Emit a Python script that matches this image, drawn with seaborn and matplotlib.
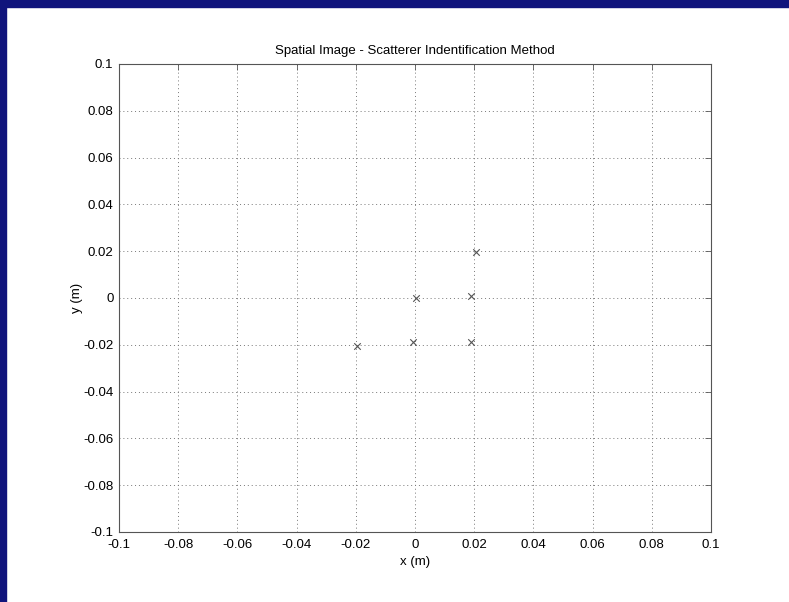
import numpy as np
import matplotlib
matplotlib.use("Agg")
import matplotlib.pyplot as plt
import seaborn as sns
from matplotlib.patches import Rectangle

# scatterer positions (m)
x_pos = [0.0205, 0.0003, 0.0190, -0.0197, -0.0008, 0.0189]
y_pos = [0.0198, 0.0000, 0.0010, -0.0204, -0.0189, -0.0189]

ticks = [-0.1, -0.08, -0.06, -0.04, -0.02, 0, 0.02, 0.04, 0.06, 0.08, 0.1]
tick_labels = ["-0.1", "-0.08", "-0.06", "-0.04", "-0.02", "0",
               "0.02", "0.04", "0.06", "0.08", "0.1"]

sns.set_style("white")
plt.rcParams['font.family'] = ['Liberation Sans', 'DejaVu Sans']

fig = plt.figure(figsize=(7.89, 6.02), dpi=100)
# slide background strips (top and left)
fig.patches.append(Rectangle((0, 1 - 7/602), 1, 7/602, transform=fig.transFigure,
                             color="#10147c", zorder=0))
fig.patches.append(Rectangle((0, 0), 6/789, 1, transform=fig.transFigure,
                             color="#10147c", zorder=0))

ax = fig.add_axes([119/789, 1 - 532/602, 592/789, 468/602])
sns.scatterplot(x=x_pos, y=y_pos, marker="x", color="#555555", s=22,
                linewidth=0.8, ax=ax, zorder=3)

ax.set_xlim(-0.1, 0.1)
ax.set_ylim(-0.1, 0.1)
ax.set_xticks(ticks)
ax.set_yticks(ticks)
ax.set_xticklabels(tick_labels)
ax.set_yticklabels(tick_labels)
ax.grid(True, linestyle=(0, (1, 3)), color="#777777", linewidth=0.7)
ax.tick_params(direction="in", length=4, width=0.6, color="#555555",
               labelsize=9.5, labelcolor="black", top=True, right=True)
ax.tick_params(axis="x", pad=5)
ax.tick_params(axis="y", pad=4)
for sp in ax.spines.values():
    sp.set_color("#555555")
    sp.set_linewidth(0.8)

ax.set_title("Spatial Image - Scatterer Indentification Method", fontsize=9.5,
             color="black", pad=7)
ax.set_xlabel("x (m)", fontsize=9.5, color="black", labelpad=4)
ax.set_ylabel("y (m)", fontsize=9.5, color="black", labelpad=0)

fig.savefig("out.png", dpi=100)
